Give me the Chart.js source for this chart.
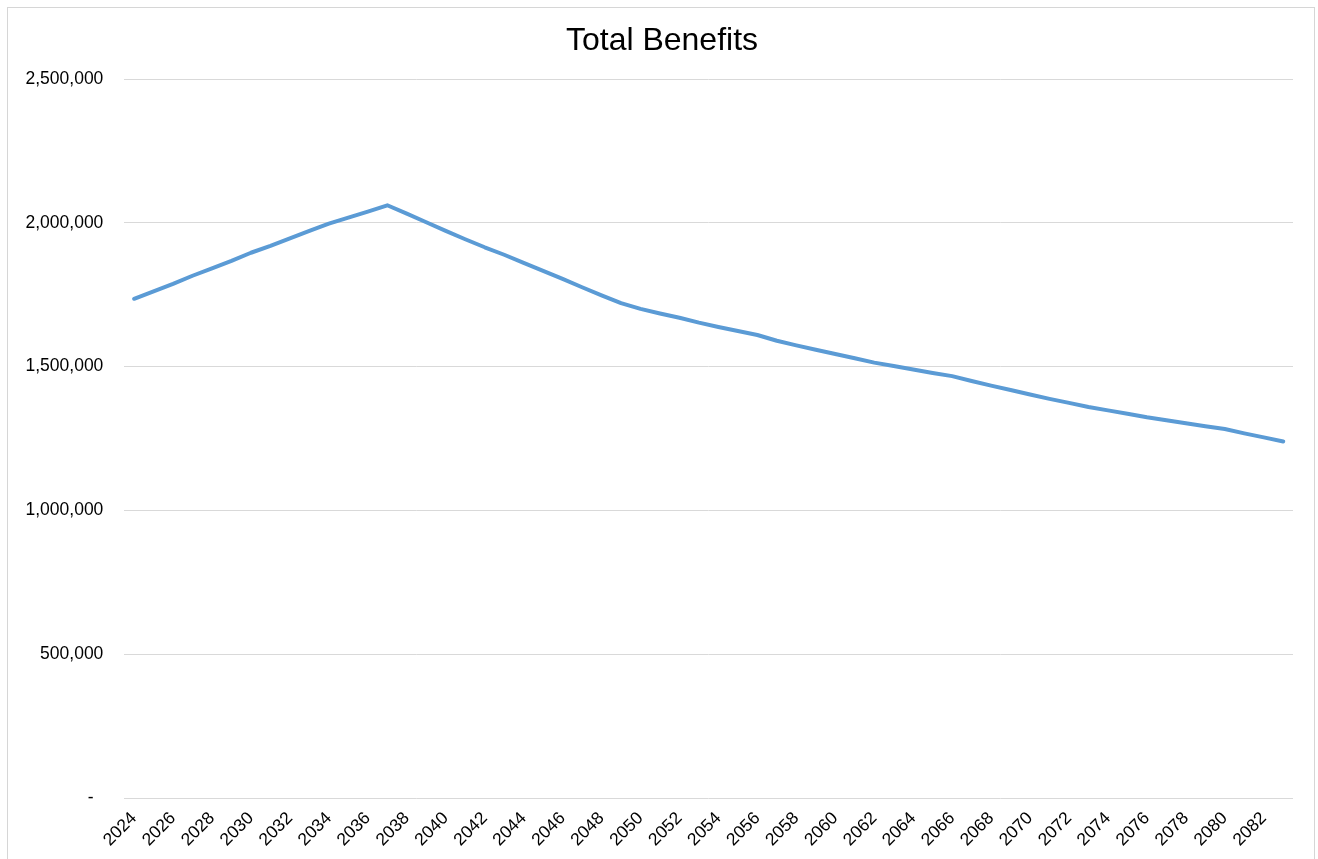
<!DOCTYPE html>
<html>
<head>
<meta charset="utf-8">
<script src="https://cdn.jsdelivr.net/npm/chart.js@4/dist/chart.umd.min.js"></script>
<style>
  html, body { margin: 0; padding: 0; background: #ffffff; overflow: hidden; }
  #wrap { position: relative; width: 1318px; height: 859px; }
  #frame { position: absolute; left: 7px; top: 7px; width: 1308px; height: 900px; border: 1.5px solid #d6d6d6; box-sizing: border-box; }
  canvas { position: absolute; left: 0; top: 0; }
</style>
</head>
<body>
<div id="wrap">
  <div id="frame"></div>
  <canvas id="c" width="1318" height="859"></canvas>
</div>
<script>
const chartTitle = 'Total Benefits';

const years = [
  '2024','2025','2026','2027','2028','2029','2030','2031','2032','2033',
  '2034','2035','2036','2037','2038','2039','2040','2041','2042','2043',
  '2044','2045','2046','2047','2048','2049','2050','2051','2052','2053',
  '2054','2055','2056','2057','2058','2059','2060','2061','2062','2063',
  '2064','2065','2066','2067','2068','2069','2070','2071','2072','2073',
  '2074','2075','2076','2077','2078','2079','2080','2081','2082','2083'
];

const totalBenefits = [
  1736000, 1762000, 1788000, 1816000, 1842000, 1868000, 1896000, 1920000, 1946000, 1972000,
  1997000, 2018000, 2039000, 2061000, 2032000, 2002000, 1972000, 1943000, 1915000, 1889000,
  1861000, 1833000, 1805000, 1776000, 1748000, 1721000, 1701000, 1685000, 1670000, 1653000,
  1638000, 1624000, 1610000, 1590000, 1574000, 1559000, 1544000, 1529000, 1514000, 1502000,
  1490000, 1478000, 1467000, 1450000, 1434000, 1419000, 1403000, 1388000, 1374000, 1360000,
  1348000, 1336000, 1324000, 1314000, 1303000, 1293000, 1283000, 1268000, 1254000, 1240000
];

const yTickValues = [0, 500000, 1000000, 1500000, 2000000, 2500000];
const yTickLabels = ['-  ', '500,000', '1,000,000', '1,500,000', '2,000,000', '2,500,000'];

const FONT = '"Liberation Sans", Arial, Helvetica, sans-serif';

// Centre the title on the full chart frame rather than on the padded area
const titleShift = {
  id: 'titleShift',
  afterLayout(chart) {
    const t = chart.titleBlock;
    if (t) {
      const shift = chart.width / 2 + 3 - (t.left + t.right) / 2;
      t.left += shift;
      t.right += shift;
    }
  }
};

new Chart(document.getElementById('c'), {
  type: 'line',
  data: {
    labels: years,
    datasets: [{
      label: chartTitle,
      data: totalBenefits,
      borderColor: '#5b9bd5',
      backgroundColor: '#5b9bd5',
      borderWidth: 4,
      pointRadius: 0,
      pointHoverRadius: 0,
      tension: 0,
      borderCapStyle: 'round',
      borderJoinStyle: 'round',
      fill: false
    }]
  },
  plugins: [titleShift],
  options: {
    responsive: false,
    animation: false,
    layout: { padding: { left: 4.5, right: 25, top: 16, bottom: -1.5 } },
    plugins: {
      legend: { display: false },
      tooltip: { enabled: false },
      title: {
        display: true,
        text: chartTitle,
        color: '#000000',
        font: { family: FONT, size: 32, weight: 'normal' },
        padding: { top: 6, bottom: 18.6 }
      }
    },
    scales: {
      x: {
        type: 'category',
        offset: true,
        grid: { display: false, drawTicks: false },
        border: { display: false },
        ticks: {
          autoSkip: false,
          maxRotation: 45,
          minRotation: 45,
          padding: 10,
          color: '#000000',
          font: { family: FONT, size: 17.5 },
          callback: function (value, index) {
            return index % 2 === 0 ? years[index] : '';
          }
        }
      },
      y: {
        min: 0,
        max: 2500000,
        afterBuildTicks: function (axis) {
          axis.ticks = yTickValues.map(v => ({ value: v }));
        },
        grid: { color: '#d9d9d9', lineWidth: 1, drawTicks: false },
        border: { display: false },
        ticks: {
          padding: 21,
          color: '#000000',
          font: { family: FONT, size: 17.5 },
          callback: function (value) {
            const i = yTickValues.indexOf(value);
            return i >= 0 ? yTickLabels[i] : '';
          }
        }
      }
    }
  }
});
</script>
</body>
</html>
